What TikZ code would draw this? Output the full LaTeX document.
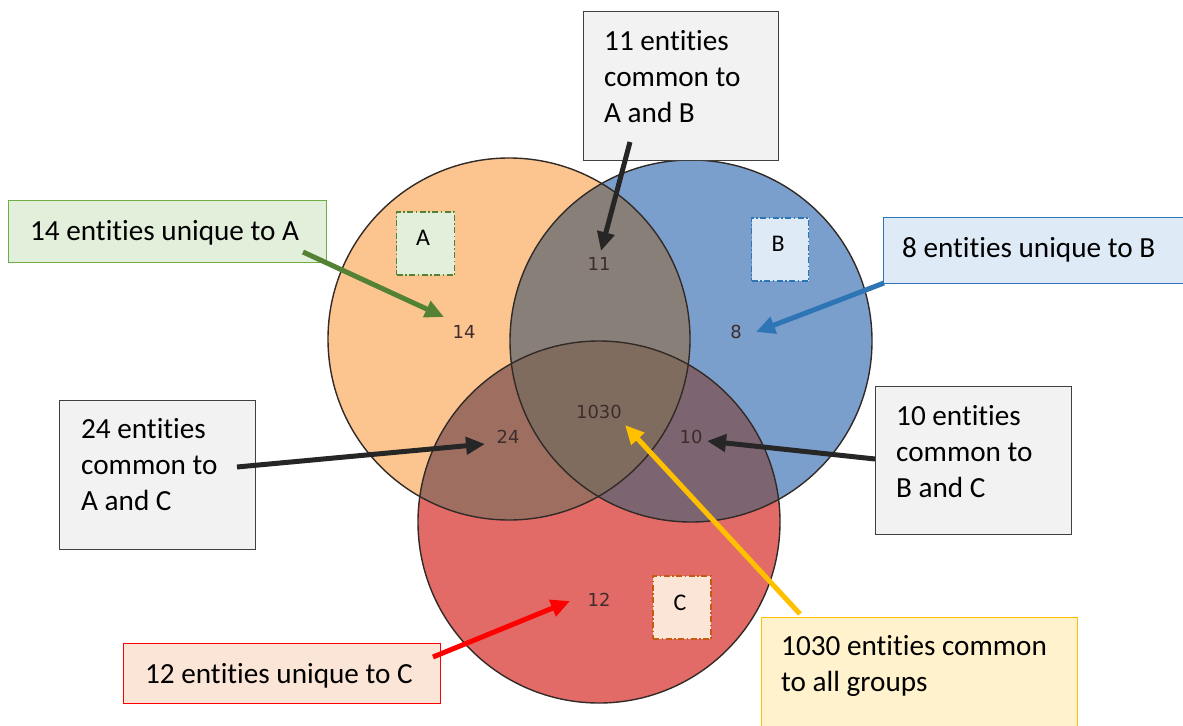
\documentclass[tikz,border=0pt]{standalone}
\usepackage{fontspec}
\setmainfont{Carlito}[Ligatures={NoCommon}]
\newfontfamily\numfont{DejaVu Sans}
\usetikzlibrary{arrows.meta}

% region fills
\definecolor{fillA}{RGB}{252,197,143}
\definecolor{fillB}{RGB}{122,159,204}
\definecolor{fillC}{RGB}{226,107,104}
\definecolor{fillAB}{RGB}{137,127,121}
\definecolor{fillAC}{RGB}{158,111,96}
\definecolor{fillBC}{RGB}{124,101,113}
\definecolor{fillABC}{RGB}{128,108,95}
\definecolor{rim}{RGB}{50,42,38}
\definecolor{numink}{RGB}{62,44,44}
% callouts
\definecolor{greyfill}{RGB}{242,242,242}
\definecolor{greyline}{RGB}{64,64,64}
\definecolor{greenfill}{RGB}{226,239,218}
\definecolor{greenline}{RGB}{112,173,71}
\definecolor{greenarrow}{RGB}{84,130,53}
\definecolor{bluefill}{RGB}{222,235,247}
\definecolor{blueline}{RGB}{46,117,182}
\definecolor{redfill}{RGB}{251,229,214}
\definecolor{redline}{RGB}{255,0,0}
\definecolor{orangeline}{RGB}{197,90,17}
\definecolor{yellowfill}{RGB}{255,242,204}
\definecolor{yellowline}{RGB}{255,192,0}
\definecolor{darkarrow}{RGB}{38,38,38}

\tikzset{
  callout/.style n args={2}{draw=#2, fill=#1, line width=1bp, inner sep=0pt,
    minimum width=0pt, minimum height=0pt},
  calltext/.style={inner sep=0pt, align=left, text=black,
    font=\fontsize{29.3}{36}\selectfont},
  setlabel/.style n args={2}{draw=#2, fill=#1, line width=1.3bp, inner sep=0pt,
    dash pattern=on 6bp off 2.5bp on 1.5bp off 2.5bp},
  tagtext/.style={inner sep=0pt, font=\fontsize{24}{28}\selectfont},
  count/.style={inner sep=2bp, text=numink, font=\numfont\fontsize{18}{20}\selectfont},
  pointer/.style={line width=5bp, -{Triangle[length=19bp,width=17bp]}},
  ring/.style={draw=rim, line width=1.4bp},
}

\begin{document}
\begin{tikzpicture}[x=1bp, y=-1bp]
\useasboundingbox[fill=white] (0,0) rectangle (1183,726);

% circle centres
\coordinate (cA) at (509,339);
\coordinate (cB) at (691,341);
\coordinate (cC) at (599,522);
\def\rad{181bp}

% single-set regions
\fill[fillA] (cA) circle[radius=\rad];
\fill[fillB] (cB) circle[radius=\rad];
\fill[fillC] (cC) circle[radius=\rad];
% pairwise overlaps
\begin{scope}
  \clip (cA) circle[radius=\rad];
  \fill[fillAB] (cB) circle[radius=\rad];
  \fill[fillAC] (cC) circle[radius=\rad];
\end{scope}
\begin{scope}
  \clip (cB) circle[radius=\rad];
  \fill[fillBC] (cC) circle[radius=\rad];
\end{scope}
% triple overlap
\begin{scope}
  \clip (cA) circle[radius=\rad];
  \clip (cB) circle[radius=\rad];
  \fill[fillABC] (cC) circle[radius=\rad];
\end{scope}
% outlines
\draw[ring] (cA) circle[radius=\rad];
\draw[ring] (cB) circle[radius=\rad];
\draw[ring] (cC) circle[radius=\rad];

% set tags
\node[setlabel={greenfill}{greenarrow}, minimum width=58bp, minimum height=63bp] (tagA) at (425.5,243.5) {};
\node[tagtext] (letA) at (423,238) {A};
\node[setlabel={bluefill}{blueline}, minimum width=57bp, minimum height=63bp] (tagB) at (780,249.5) {};
\node[tagtext] (letB) at (778,244) {B};
\node[setlabel={redfill}{orangeline}, minimum width=58bp, minimum height=63bp] (tagC) at (682,607.5) {};
\node[tagtext] (letC) at (680,603) {C};

% region counts
\node[count] (n14) at (464,332) {14};
\node[count] (n11) at (599,264) {11};
\node[count] (n8) at (736,332) {8};
\node[count] (n1030) at (599,412) {1030};
\node[count] (n24) at (508,437) {24};
\node[count] (n10) at (691,437) {10};
\node[count] (n12) at (599,600) {12};

% callout boxes
\node[callout={greyfill}{greyline}, minimum width=195bp, minimum height=148bp] (boxAB) at (680.5,86) {};
\node[calltext, anchor=north west] (txtAB) at (604,25) {\strut 11 entities\\common to\\A and B};

\node[callout={greenfill}{greenline}, minimum width=317bp, minimum height=61bp] (boxA) at (167.5,231.5) {};
\node[calltext, anchor=base west] (txtA) at (30,240) {14 entities unique to A};

\node[callout={bluefill}{blueline}, anchor=north west, minimum width=310bp, minimum height=66bp] (boxB) at (883,217) {};
\node[calltext, anchor=base west] (txtB) at (902,257) {8 entities unique to B};

\node[callout={greyfill}{greyline}, minimum width=195bp, minimum height=149bp] (boxAC) at (157.5,474.5) {};
\node[calltext, anchor=north west] (txtAC) at (81,413) {\strut 24 entities\\common to\\A and C};

\node[callout={greyfill}{greyline}, minimum width=196bp, minimum height=148bp] (boxBC) at (973,460) {};
\node[calltext, anchor=north west] (txtBC) at (896,400) {\strut 10 entities\\common to\\B and C};

\node[callout={redfill}{redline}, minimum width=316bp, minimum height=60bp] (boxC) at (282,673) {};
\node[calltext, anchor=base west] (txtC) at (145,683) {12 entities unique to C};

\node[callout={yellowfill}{yellowline}, anchor=north west, minimum width=316bp, minimum height=130bp] (boxABC) at (761,617) {};
\node[calltext, anchor=north west] (txtABC) at (781,630) {\strut 1030 entities common\\to all groups};

% arrow ends
\coordinate (fromA) at (303,252);
\coordinate (toA) at (444,317);
\coordinate (fromAB) at (630,142);
\coordinate (toAB) at (601,251);
\coordinate (fromB) at (884,283);
\coordinate (toB) at (756,332);
\coordinate (fromAC) at (237,467);
\coordinate (toAC) at (485,444);
\coordinate (fromBC) at (875,459);
\coordinate (toBC) at (707,441);
\coordinate (fromABC) at (800,614);
\coordinate (toABC) at (625,425);
\coordinate (fromC) at (433,657);
\coordinate (toC) at (570,601);

% arrows
\draw[pointer, greenarrow] (fromA) -- (toA);
\draw[pointer, darkarrow] (fromAB) -- (toAB);
\draw[pointer, blueline] (fromB) -- (toB);
\draw[pointer, darkarrow] (fromAC) -- (toAC);
\draw[pointer, darkarrow] (fromBC) -- (toBC);
\draw[pointer, yellowline] (fromABC) -- (toABC);
\draw[pointer, redline] (fromC) -- (toC);
\end{tikzpicture}
\end{document}
